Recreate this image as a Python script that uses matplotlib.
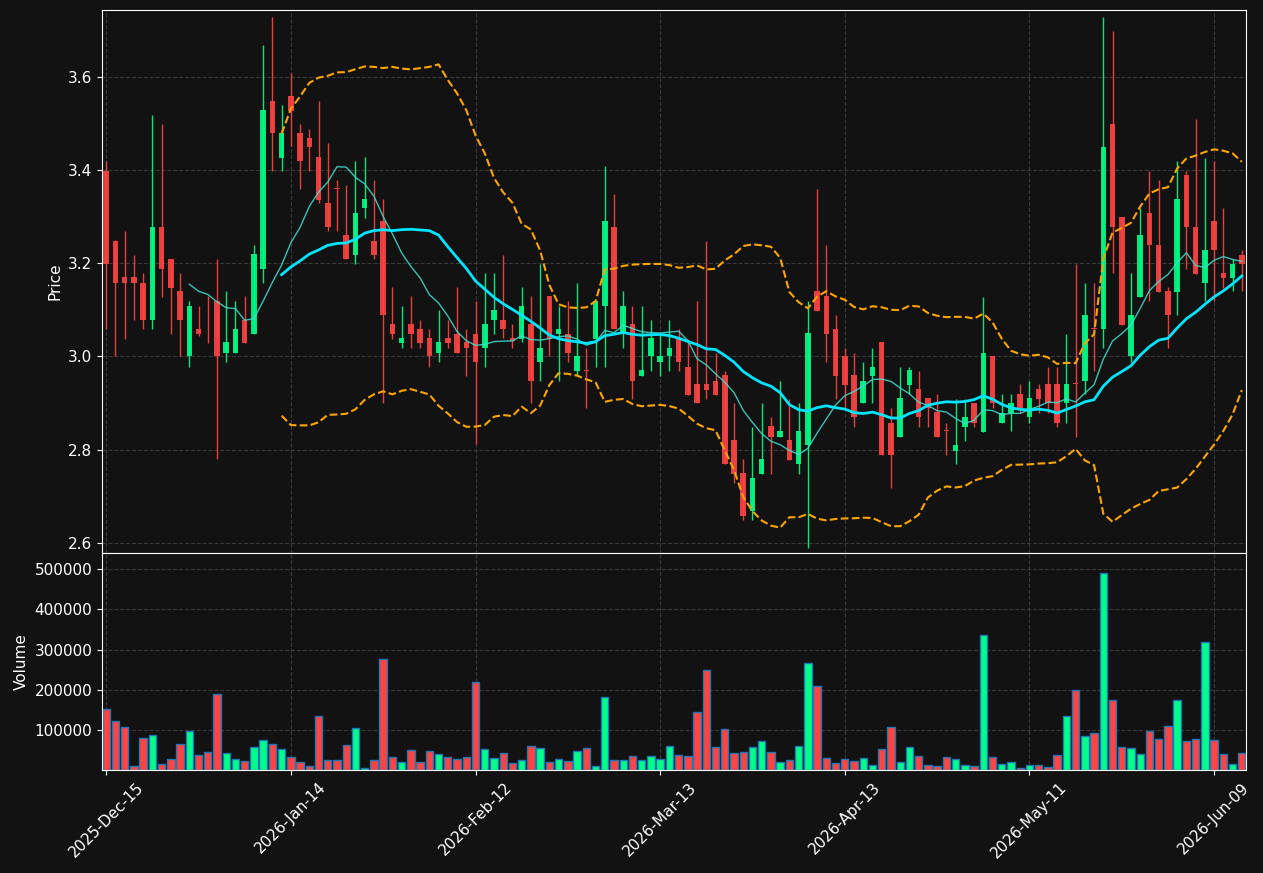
import numpy as np
import pandas as pd
import matplotlib
matplotlib.use("Agg")
import matplotlib.pyplot as plt

# OHLC (one bar per trading day)
opens = [3.398, 3.249, 3.170, 3.170, 3.158, 3.078, 3.279, 3.210, 3.140, 3.000,
         3.060, 3.089, 3.120, 3.007, 3.007, 3.078, 3.049, 3.187, 3.549, 3.427,
         3.559, 3.480, 3.470, 3.429, 3.330, 3.360, 3.260, 3.217, 3.318, 3.249,
         3.290, 3.069, 3.029, 3.069, 3.060, 3.039, 3.007, 3.039, 3.049, 3.030,
         3.049, 3.019, 3.079, 3.079, 3.039, 3.038, 3.069, 2.988, 3.129, 3.049,
         3.049, 2.969, 2.970, 3.038, 3.108, 3.279, 3.049, 3.069, 2.958, 3.000,
         2.988, 3.000, 3.039, 2.978, 2.940, 2.940, 2.948, 2.960, 2.820, 2.750,
         2.669, 2.748, 2.851, 2.827, 2.820, 2.768, 2.809, 3.140, 3.129, 3.060,
         3.000, 2.960, 2.899, 2.958, 3.030, 2.858, 2.827, 2.939, 2.930, 2.910,
         2.880, 2.841, 2.798, 2.849, 2.899, 2.838, 3.000, 2.858, 2.879, 2.919,
         2.869, 2.930, 2.940, 2.940, 2.899, 2.941, 2.948, 3.062, 3.059, 3.499,
         3.300, 3.000, 3.127, 3.309, 3.240, 3.140, 3.138, 3.389, 3.279, 3.158,
         3.290, 3.179, 3.168, 3.218]
highs = [3.419, 3.250, 3.269, 3.218, 3.179, 3.519, 3.499, 3.210, 3.179, 3.120,
         3.109, 3.129, 3.209, 3.140, 3.120, 3.129, 3.240, 3.668, 3.728, 3.540,
         3.609, 3.499, 3.488, 3.548, 3.459, 3.379, 3.369, 3.420, 3.429, 3.379,
         3.339, 3.150, 3.109, 3.129, 3.079, 3.060, 3.099, 3.079, 3.150, 3.060,
         3.120, 3.179, 3.179, 3.218, 3.069, 3.150, 3.129, 3.198, 3.129, 3.109,
         3.120, 3.157, 3.019, 3.120, 3.409, 3.349, 3.140, 3.109, 3.109, 3.079,
         3.049, 3.079, 3.060, 3.038, 3.120, 3.249, 3.008, 2.969, 2.899, 2.779,
         2.849, 2.899, 2.869, 2.948, 2.909, 2.899, 3.120, 3.359, 3.239, 3.089,
         3.019, 3.008, 2.988, 3.019, 3.030, 2.889, 2.978, 2.978, 2.969, 2.910,
         2.919, 2.858, 2.909, 2.909, 2.899, 3.128, 3.000, 2.919, 2.919, 2.940,
         2.948, 2.940, 2.978, 2.978, 3.049, 3.198, 3.157, 3.157, 3.728, 3.698,
         3.300, 3.179, 3.319, 3.398, 3.379, 3.150, 3.419, 3.398, 3.510, 3.427,
         3.420, 3.319, 3.209, 3.228]
lows = [3.060, 3.000, 3.038, 3.079, 3.059, 3.059, 3.128, 3.049, 3.000, 2.978,
        3.045, 3.029, 2.779, 2.988, 3.007, 3.029, 3.049, 3.158, 3.398, 3.398,
        3.451, 3.359, 3.398, 3.330, 3.269, 3.269, 3.209, 3.198, 3.298, 3.209,
        2.899, 3.038, 3.019, 3.019, 3.019, 2.978, 2.988, 3.019, 3.007, 2.958,
        2.811, 2.978, 3.049, 3.039, 3.019, 3.030, 2.899, 2.948, 3.000, 2.948,
        2.988, 2.958, 2.889, 2.978, 2.978, 3.059, 3.019, 2.909, 2.958, 2.969,
        2.958, 2.969, 2.969, 2.918, 2.899, 2.909, 2.918, 2.768, 2.729, 2.648,
        2.648, 2.748, 2.748, 2.827, 2.778, 2.748, 2.589, 3.097, 2.988, 2.909,
        2.889, 2.849, 2.899, 2.899, 2.788, 2.718, 2.827, 2.919, 2.849, 2.849,
        2.827, 2.788, 2.768, 2.819, 2.849, 2.838, 2.889, 2.858, 2.839, 2.878,
        2.858, 2.878, 2.878, 2.849, 2.858, 2.828, 2.919, 2.969, 3.019, 3.179,
        3.068, 2.988, 3.127, 3.120, 3.138, 3.019, 3.090, 3.187, 3.178, 3.120,
        3.120, 3.148, 3.140, 3.140]
closes = [3.199, 3.158, 3.158, 3.158, 3.078, 3.279, 3.187, 3.148, 3.078, 3.109,
          3.049, 3.088, 3.000, 3.030, 3.060, 3.029, 3.219, 3.529, 3.479, 3.480,
          3.528, 3.419, 3.449, 3.337, 3.277, 3.359, 3.209, 3.309, 3.339, 3.217,
          3.088, 3.049, 3.039, 3.049, 3.029, 3.000, 3.030, 3.029, 3.007, 3.019,
          2.988, 3.069, 3.099, 3.059, 3.034, 3.109, 2.948, 3.019, 3.038, 3.060,
          3.007, 3.000, 2.969, 3.120, 3.290, 3.059, 3.109, 2.948, 2.970, 3.039,
          3.000, 3.019, 2.988, 2.918, 2.899, 2.928, 2.918, 2.768, 2.747, 2.658,
          2.739, 2.779, 2.827, 2.840, 2.778, 2.840, 3.050, 3.097, 3.049, 2.958,
          2.939, 2.869, 2.948, 2.978, 2.788, 2.788, 2.910, 2.970, 2.869, 2.889,
          2.827, 2.840, 2.810, 2.869, 2.858, 3.008, 2.899, 2.879, 2.899, 2.889,
          2.910, 2.909, 2.899, 2.858, 2.940, 2.940, 3.090, 3.059, 3.450, 3.278,
          3.068, 3.090, 3.260, 3.239, 3.138, 3.088, 3.339, 3.278, 3.178, 3.229,
          3.228, 3.168, 3.199, 3.198]
volumes = [151700, 121700, 106700, 9000, 80000, 86700, 14000, 26700, 64000, 96700,
           36700, 44000, 189000, 41700, 26700, 21700, 56700, 74000, 64000, 51700,
           31700, 19000, 9000, 134000, 24000, 24000, 61700, 104000, 4000, 24000,
           276700, 31700, 19000, 49000, 19000, 46700, 39000, 31700, 26700, 31700,
           219000, 51700, 29000, 41700, 16700, 24000, 59000, 54000, 19000, 26700,
           21700, 46700, 54000, 9000, 181700, 24000, 24000, 34000, 24000, 34000,
           26700, 59000, 36700, 34000, 144000, 249000, 56700, 101700, 41700, 44000,
           56700, 71700, 44000, 19000, 24000, 59000, 266700, 209000, 29000, 16700,
           26700, 21700, 29000, 11700, 51700, 106700, 19000, 56700, 34000, 11700,
           9000, 31700, 26700, 11700, 9000, 336700, 31700, 14000, 19000, 4000,
           11700, 11700, 6700, 36700, 134000, 199000, 84000, 91700, 491700, 174000,
           56700, 54000, 39000, 96700, 76700, 109000, 174000, 71700, 76700, 319000,
           74000, 39000, 14000, 41700]

tick_pos = [0, 20, 40, 60, 80, 100, 120]
tick_labels = ["2025-Dec-15", "2026-Jan-14", "2026-Feb-12", "2026-Mar-13",
               "2026-Apr-13", "2026-May-11", "2026-Jun-09"]

up_col = "#00ff88"
down_col = "#ff4444"
bg = "#121212"

df = pd.DataFrame({"open": opens, "high": highs, "low": lows,
                   "close": closes, "volume": volumes})
x = np.arange(len(df))
ma10 = df["close"].rolling(10).mean()
ma20 = df["close"].rolling(20).mean()
sd20 = df["close"].rolling(20).std(ddof=0)
upper = ma20 + 2 * sd20
lower = ma20 - 2 * sd20

up = df["close"] >= df["open"]
colors = np.where(up, up_col, down_col)

fig = plt.figure(figsize=(12.63, 8.73), dpi=100, facecolor=bg)
ax = fig.add_axes([0.0808, 0.3666, 0.9057, 0.6219], facecolor=bg)
axv = fig.add_axes([0.0808, 0.1180, 0.9057, 0.2486], facecolor=bg, sharex=ax)

# candles
ax.vlines(x, df["low"], df["high"], colors=colors, linewidth=1, alpha=0.9, zorder=2)
body_lo = np.minimum(df["open"], df["close"])
body_h = np.maximum(np.abs(df["close"] - df["open"]), 0.002)
ax.bar(x, body_h, bottom=body_lo, width=0.6, color=colors, alpha=0.9, zorder=3)

ax.plot(x, ma10, color="#40e0d0", linewidth=1, alpha=0.85, zorder=4)
ax.plot(x, ma20, color="#00e5ff", linewidth=2, zorder=4)
ax.plot(x, upper, color="orange", linestyle="--", linewidth=1.5, zorder=4)
ax.plot(x, lower, color="orange", linestyle="--", linewidth=1.5, zorder=4)

# volume
axv.bar(x, df["volume"], width=0.8, color=colors, edgecolor="#1f77b4", linewidth=1)

ax.set_xlim(-0.45, len(df) - 0.55)
ax.set_ylim(2.578, 3.744)
ax.set_yticks([2.6, 2.8, 3.0, 3.2, 3.4, 3.6])
ax.set_ylabel("Price", color="white", fontsize=11)
axv.set_ylim(0, max(volumes) * 1.1)
axv.set_yticks([100000, 200000, 300000, 400000, 500000])
axv.set_yticklabels(["100000", "200000", "300000", "400000", "500000"])
axv.set_ylabel("Volume", color="white", fontsize=11)

axv.set_xticks(tick_pos)
axv.set_xticklabels(tick_labels, rotation=45)
ax.tick_params(axis="x", labelbottom=False, length=0)

for a in (ax, axv):
    a.grid(True, color="#444444", linestyle="--", linewidth=0.8, alpha=0.8)
    a.set_axisbelow(True)
    a.tick_params(colors="white", labelsize=11)
    for s in a.spines.values():
        s.set_color("white")

fig.savefig("out.png", facecolor=bg)
